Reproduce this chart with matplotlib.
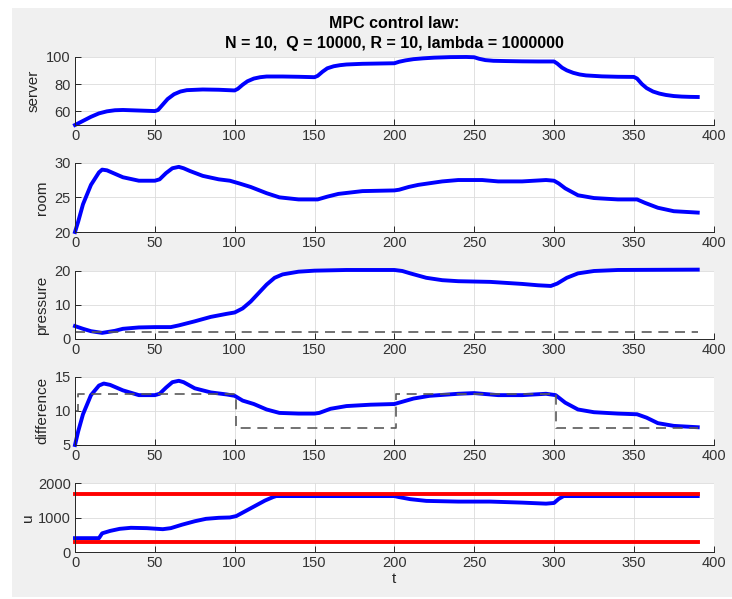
import numpy as np
import matplotlib
matplotlib.use("Agg")
import matplotlib.pyplot as plt
from matplotlib.patches import Rectangle

plt.rcParams["font.family"] = ["Liberation Sans", "DejaVu Sans"]

# === Data ===
t_server = [0, 5, 10, 15, 20, 25, 30, 40, 50, 52, 55, 58, 62, 66, 70, 80, 90, 100,
            102, 105, 108, 112, 116, 120, 130, 140, 150, 152, 155, 158, 162, 166, 170,
            180, 190, 200, 203, 207, 212, 218, 225, 235, 245, 250, 253, 257, 262, 270,
            280, 290, 300, 302, 305, 308, 312, 316, 320, 330, 340, 350, 352, 355, 358,
            362, 366, 370, 375, 380, 385, 390]
server = [50, 53, 56, 58.5, 60, 60.8, 61, 60.6, 60.2, 61, 65, 69, 72.5, 74.5, 75.5, 76,
          75.8, 75.3, 76.5, 79.5, 82, 84, 85, 85.5, 85.5, 85.3, 85, 86, 89, 91.5, 93,
          93.8, 94.3, 94.8, 95, 95.2, 96.3, 97.3, 98.2, 98.8, 99.3, 99.7, 99.8, 99.6,
          98.5, 97.5, 97, 96.8, 96.6, 96.5, 96.5, 95, 92, 90, 88.2, 87, 86.3, 85.6,
          85.3, 85.2, 84, 80, 77, 74.5, 73, 72, 71.2, 70.8, 70.6, 70.5]

t_room = [0, 2, 5, 10, 15, 17, 20, 25, 30, 40, 50, 53, 57, 61, 65, 68, 72, 80, 90, 97,
          103, 110, 120, 128, 140, 152, 158, 165, 180, 200, 203, 209, 215, 230, 240,
          255, 265, 280, 295, 300, 303, 307, 315, 325, 340, 352, 357, 365, 375, 390]
room = [20, 21.5, 24, 26.8, 28.6, 29, 28.9, 28.4, 27.9, 27.4, 27.4, 27.6, 28.5, 29.2,
        29.4, 29.2, 28.8, 28.1, 27.6, 27.4, 27, 26.5, 25.6, 25, 24.7, 24.7, 25.1, 25.5,
        25.9, 26, 26.1, 26.5, 26.8, 27.3, 27.5, 27.5, 27.3, 27.3, 27.5, 27.4, 27.0,
        26.3, 25.3, 24.9, 24.7, 24.7, 24.2, 23.5, 23, 22.8]

t_press = [0, 5, 10, 17, 25, 30, 40, 50, 60, 65, 75, 85, 95, 100, 105, 110, 115, 120,
           125, 130, 140, 150, 170, 200, 205, 210, 220, 230, 240, 260, 280, 290, 298,
           302, 308, 315, 325, 340, 390]
pressure = [3.8, 3.0, 2.3, 1.8, 2.4, 3.0, 3.4, 3.5, 3.5, 4.0, 5.2, 6.5, 7.4, 7.8, 9.0,
            11, 13.5, 16, 18, 19, 19.8, 20.1, 20.3, 20.3, 20, 19.3, 18, 17.3, 17, 16.8,
            16.2, 15.8, 15.6, 16.3, 18, 19.3, 20, 20.3, 20.4]
pressure_ref = 2

t_diff = [0, 2, 5, 10, 15, 18, 22, 30, 40, 50, 53, 57, 61, 65, 68, 75, 85, 95, 100, 105,
          112, 120, 128, 140, 150, 153, 160, 170, 185, 200, 203, 212, 222, 240, 250, 265,
          280, 295, 301, 307, 315, 325, 340, 352, 358, 365, 375, 390]
difference = [5, 7, 9.5, 12.3, 13.7, 14, 13.8, 13, 12.3, 12.3, 12.5, 13.4, 14.2, 14.4,
              14.2, 13.3, 12.7, 12.4, 12.2, 11.5, 11, 10.2, 9.7, 9.6, 9.6, 9.7, 10.3,
              10.7, 10.9, 11, 11.2, 11.8, 12.2, 12.5, 12.6, 12.3, 12.3, 12.5, 12.3, 11.2,
              10.2, 9.8, 9.6, 9.5, 9.0, 8.2, 7.8, 7.6]
t_diff_ref = [0, 2, 2, 101, 101, 201, 201, 301, 301, 390]
diff_ref = [10, 10, 12.5, 12.5, 7.5, 7.5, 12.5, 12.5, 7.5, 7.5]

t_u = [0, 15, 17, 22, 28, 35, 45, 55, 60, 67, 75, 82, 90, 97, 101, 107, 113, 119, 124,
       126, 150, 200, 203, 210, 220, 240, 260, 280, 295, 300, 303, 306, 390]
u = [410, 410, 550, 620, 680, 710, 700, 670, 700, 800, 900, 970, 1000, 1010, 1050, 1200,
     1350, 1500, 1600, 1630, 1630, 1630, 1600, 1540, 1490, 1470, 1470, 1440, 1410, 1430,
     1550, 1630, 1630]
u_max = 1700
u_min = 300
t_end = 390

# === Figura ===
fig = plt.figure(figsize=(7.32, 5.99), dpi=100, facecolor="white")
fig.add_artist(Rectangle((12 / 732, 2 / 599), 720 / 732, 589 / 599,
                         transform=fig.transFigure, facecolor="#f0f0f0",
                         edgecolor="none", zorder=-10))

tops = [56.7, 162.7, 271, 376.7, 483.3]
bots = [125, 232, 339, 445, 552.3]
axes = []
for top, bot in zip(tops, bots):
    ax = fig.add_axes([75 / 732, 1 - bot / 599, 638.7 / 732, (bot - top) / 599])
    axes.append(ax)

blue = "#0000ff"
red = "#ff0000"
dash_col = "#5a5a5a"
lw_thick = 2.8

axes[0].plot(t_server, server, color=blue, lw=lw_thick, clip_on=False)
axes[0].set_ylim(50, 100)
axes[0].set_yticks([60, 80, 100])
axes[0].set_ylabel("server")

axes[1].plot(t_room, room, color=blue, lw=lw_thick, clip_on=False)
axes[1].set_ylim(20, 30)
axes[1].set_yticks([20, 25, 30])
axes[1].set_ylabel("room")

axes[2].plot(t_press, pressure, color=blue, lw=lw_thick, clip_on=False)
axes[2].plot([0, t_end], [pressure_ref, pressure_ref], color=dash_col, lw=1.2,
             dashes=(6, 4))
axes[2].set_ylim(0, 20)
axes[2].set_yticks([0, 10, 20])
axes[2].set_ylabel("pressure")

axes[3].plot(t_diff, difference, color=blue, lw=lw_thick, clip_on=False)
axes[3].plot(t_diff_ref, diff_ref, color=dash_col, lw=1.2, dashes=(6, 4))
axes[3].set_ylim(5, 15)
axes[3].set_yticks([5, 10, 15])
axes[3].set_ylabel("difference")

axes[4].plot(t_u, u, color=blue, lw=lw_thick, clip_on=False)
axes[4].plot([0, t_end], [u_max, u_max], color=red, lw=lw_thick, clip_on=False)
axes[4].plot([0, t_end], [u_min, u_min], color=red, lw=lw_thick, clip_on=False)
axes[4].set_ylim(0, 2000)
axes[4].set_yticks([0, 1000, 2000])
axes[4].set_ylabel("u", labelpad=2)
axes[4].set_xlabel("t", fontsize=11, color="#262626", labelpad=1)

for ax in axes:
    ax.set_xlim(0, 400)
    ax.set_xticks(np.arange(0, 401, 50))
    ax.set_facecolor("white")
    ax.grid(True, color="#dcdcdc", lw=0.6)
    ax.set_axisbelow(True)
    ax.spines["top"].set_visible(False)
    ax.spines["right"].set_visible(False)
    for s in ["left", "bottom"]:
        ax.spines[s].set_color("#262626")
        ax.spines[s].set_linewidth(0.7)
    ax.tick_params(direction="in", length=4, width=0.7, color="#262626",
                   labelcolor="#333333", labelsize=10.5, pad=3)
    ax.yaxis.label.set_size(11)
    ax.yaxis.label.set_color("#262626")

axes[0].set_title("MPC control law:\nN = 10,  Q = 10000, R = 10, lambda = 1000000",
                  fontsize=11.5, fontweight="bold", pad=6, linespacing=1.45)

plt.savefig("out.png", dpi=100, facecolor=fig.get_facecolor())
